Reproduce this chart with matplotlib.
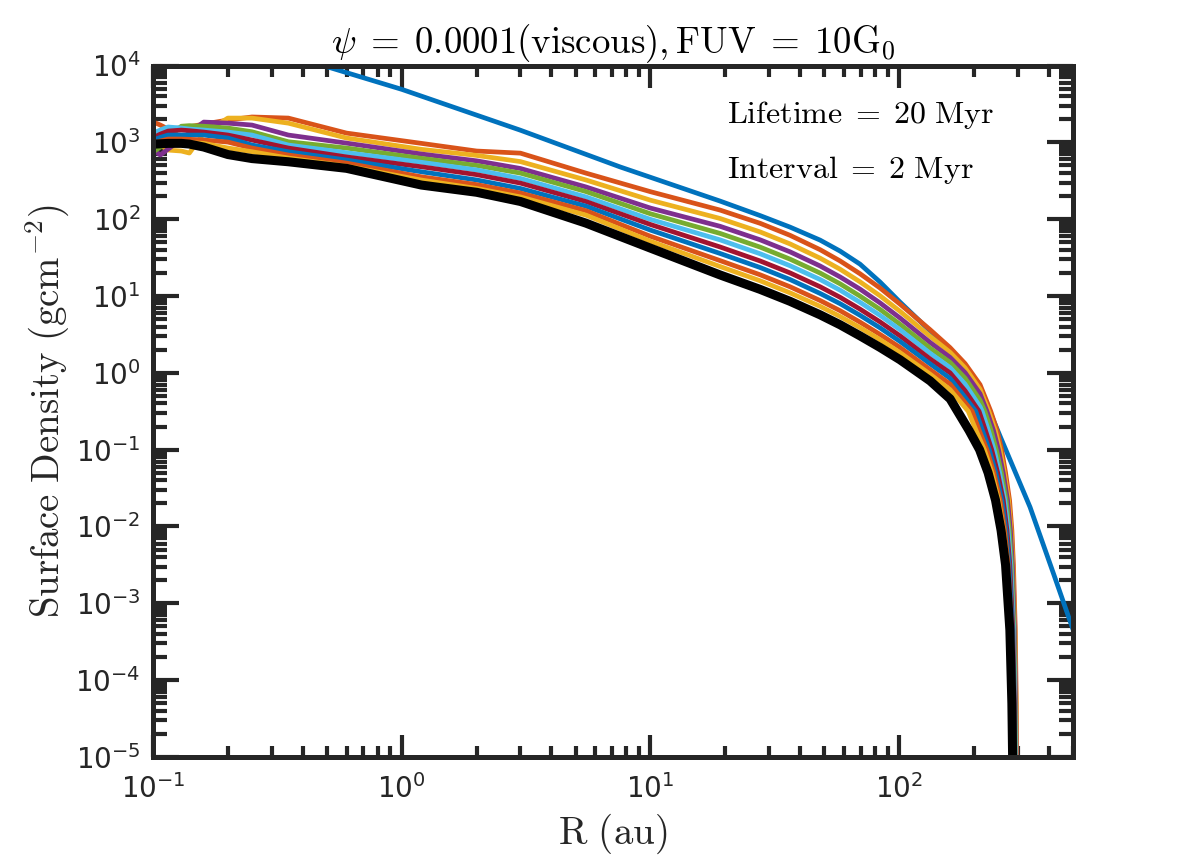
import numpy as np
import matplotlib
matplotlib.use("Agg")
import matplotlib.pyplot as plt
from matplotlib.ticker import LogLocator, NullFormatter

# ---------------- data ----------------
# inner radius grid (au), shared by the evolved profiles
R_inner = [0.1, 0.107, 0.115, 0.13, 0.14, 0.16, 0.2, 0.25, 0.35, 0.6, 1.2, 2, 3, 5.5, 10]
# outer radius columns (au), shared by the evolved profiles
R_cols = [19.05, 27.6, 36.4, 48.1, 57.9, 69.6, 83.8, 100.8, 133.1, 160.2]
# surface density levels along the steep outer cutoff (g cm^-2)
sigma_tail = [0.316, 0.178, 0.1, 0.0501, 0.0219, 0.00891, 0.00316, 4.47e-4, 5.01e-5, 1e-6]

# initial profile (t = 0)
R_t0 = [0.45, 1.0, 2.99, 7.55, 19.05, 27.6, 36.4, 48.1, 57.9, 69.6, 83.8, 100.8, 160.2,
        217.4, 254.5, 336.0, 419.6, 501]
sigma_t0 = [10715, 4898, 1445, 479, 172.1, 111.4, 78.9, 53.4, 38.4, 26.0, 15.2, 8.33, 1.98,
            0.5125, 0.150, 0.01784, 2.32e-3, 4.47e-4]

# t = 2 Myr
in_t2 = [1850, 1680, 1490, 1550, 1591, 1730, 1950, 2140, 2070, 1320, 970, 771, 724, 398, 228]
col_t2 = [131.4, 88.4, 61.7, 40.1, 28.6, 19.5, 12.7, 7.84, 3.65, 2.13]
extR_t2 = [184.1, 211.5]
extS_t2 = [1.32, 0.702]
tail_t2 = [233.5, 247.5, 258.1, 267.8, 277.9, 283.9, 288.1, 293.0, 295.7, 298.5]
# t = 4 Myr
in_t4 = [1000, 922, 794, 771, 726, 1318, 2070, 2070, 1778, 1138, 811, 676, 562, 324, 176.8]
col_t4 = [102.1, 68.3, 47.7, 31.1, 22.3, 15.3, 10.06, 6.32, 2.99, 1.85]
extR_t4 = [184.1, 211.5]
extS_t4 = [1.16, 0.612]
tail_t4 = [229.2, 243.4, 254.5, 264.9, 275.4, 281.8, 286.5, 291.9, 294.9, 297.6]
# t = 6 Myr
in_t6 = [794, 684, 818, 1096, 1330, 1837, 1778, 1679, 1245, 977, 705, 575, 457, 263, 139.5]
col_t6 = [80.8, 53.9, 37.6, 24.6, 17.7, 12.3, 8.13, 5.17, 2.49, 1.59]
extR_t6 = [184.1, 211.5]
extS_t6 = [1.006, 0.534]
tail_t6 = [225.4, 239.4, 250.8, 261.9, 272.8, 280.0, 285.2, 290.8, 294.1, 297.1]
# t = 8 Myr
in_t8 = [748, 869, 1138, 1622, 1650, 1622, 1535, 1374, 1019, 843, 619, 501, 398, 229, 117.6]
col_t8 = [65.3, 43.3, 30.2, 19.9, 14.4, 9.97, 6.69, 4.29, 2.10, 1.37]
extR_t8 = [184.1, 211.5]
extS_t8 = [0.853, 0.440]
tail_t8 = [221.1, 234.2, 245.7, 257.6, 269.3, 277.1, 283.1, 289.5, 292.7, 296.0]
# t = 10 Myr
in_t10 = [1318, 1446, 1585, 1535, 1490, 1445, 1361, 1245, 923, 733, 550, 437, 339, 195, 99.4]
col_t10 = [53.8, 35.5, 24.8, 16.4, 11.9, 8.28, 5.59, 3.64, 1.80, 1.17]
extR_t10 = [184.1, 211.5]
extS_t10 = [0.713, 0.362]
tail_t10 = [215.6, 228.4, 240.8, 253.3, 265.8, 274.3, 281.0, 288.1, 291.6, 295.2]
# t = 12 Myr
in_t12 = [1148, 1280, 1403, 1445, 1420, 1361, 1245, 1072, 843, 646, 481, 380, 295, 170, 85.3]
col_t12 = [43.5, 28.6, 20.0, 13.2, 9.62, 6.75, 4.60, 3.03, 1.52, 1.00]
extR_t12 = [184.1]
extS_t12 = [0.585]
tail_t12 = [209.5, 222.3, 235.5, 248.9, 262.2, 271.3, 278.7, 286.5, 290.3, 294.1]
# t = 14 Myr
in_t14 = [1072, 1160, 1245, 1245, 1245, 1245, 1138, 923, 755, 589, 414, 324, 251, 148, 72.1]
col_t14 = [35.8, 23.5, 16.4, 10.8, 7.94, 5.61, 3.85, 2.56, 1.31, 0.848]
extR_t14 = [184.1]
extS_t14 = [0.480]
tail_t14 = [203.2, 216.2, 230.3, 244.6, 258.6, 268.6, 276.6, 285.0, 288.9, 293.0]
# t = 16 Myr
in_t16 = [977, 1040, 1104, 1104, 1095, 1072, 1009, 843, 684, 537, 356, 282, 219, 129, 59.9]
col_t16 = [28.9, 18.9, 13.2, 8.74, 6.44, 4.57, 3.16, 2.14, 1.10, 0.715]
extR_t16 = []
extS_t16 = []
tail_t16 = [196.6, 209.9, 225.2, 240.3, 254.7, 265.6, 274.3, 283.4, 287.9, 291.9]
# t = 18 Myr
in_t18 = [923, 965, 1009, 1009, 995, 970, 844, 755, 625, 490, 323, 251, 195, 113, 51.6]
col_t18 = [24.2, 15.8, 11.0, 7.34, 5.41, 3.87, 2.70, 1.83, 0.962, 0.604]
extR_t18 = []
extS_t18 = []
tail_t18 = [189.6, 203.8, 220.1, 236.1, 251.2, 262.7, 272.1, 281.8, 286.5, 290.8]
# t = 20 Myr (final, black)
in_t20 = [944, 958, 970, 970, 950, 869, 694, 615, 559, 459, 278, 224, 170, 88.9, 42.0]
col_t20 = [18.8, 12.2, 8.53, 5.69, 4.22, 3.03, 2.14, 1.48, 0.787, 0.459]
extR_t20 = []
extS_t20 = []
tail_t20 = [171.7, 191.0, 210.5, 227.8, 244.1, 256.9, 267.8, 278.7, 283.9, 288.7]

# MATLAB default colour order
c_blue = "#0072BD"
c_orange = "#D95319"
c_yellow = "#EDB120"
c_purple = "#7E2F8E"
c_green = "#77AC30"
c_lblue = "#4DBEEE"
c_red = "#A2142F"

evolved = [
    (in_t2, col_t2, extR_t2, extS_t2, tail_t2, c_orange),
    (in_t4, col_t4, extR_t4, extS_t4, tail_t4, c_yellow),
    (in_t6, col_t6, extR_t6, extS_t6, tail_t6, c_purple),
    (in_t8, col_t8, extR_t8, extS_t8, tail_t8, c_green),
    (in_t10, col_t10, extR_t10, extS_t10, tail_t10, c_lblue),
    (in_t12, col_t12, extR_t12, extS_t12, tail_t12, c_red),
    (in_t14, col_t14, extR_t14, extS_t14, tail_t14, c_blue),
    (in_t16, col_t16, extR_t16, extS_t16, tail_t16, c_orange),
    (in_t18, col_t18, extR_t18, extS_t18, tail_t18, c_yellow),
]


def profile(inner, cols, extR, extS, tail):
    r = list(R_inner) + list(R_cols) + list(extR) + list(tail)
    s = list(inner) + list(cols) + list(extS) + list(sigma_tail)
    return r, s


# ---------------- figure ----------------
fig = plt.figure(figsize=(11.88, 8.60), dpi=100)
ax = fig.add_axes([0.1288, 0.1198, 0.7744, 0.8040])

ax.plot(R_t0, sigma_t0, color=c_blue, lw=3.4, solid_joinstyle="round")
for inner, cols, extR, extS, tail, col in evolved:
    r, s = profile(inner, cols, extR, extS, tail)
    ax.plot(r, s, color=col, lw=3.4, solid_joinstyle="round")
r, s = profile(in_t20, col_t20, extR_t20, extS_t20, tail_t20)
ax.plot(r, s, color="black", lw=6.5, solid_joinstyle="round")

ax.set_xscale("log")
ax.set_yscale("log")
ax.set_xlim(0.1, 500)
ax.set_ylim(1e-5, 1e4)

dark = "#262626"
ax.xaxis.set_major_locator(LogLocator(base=10, numticks=20))
ax.yaxis.set_major_locator(LogLocator(base=10, numticks=20))
ax.xaxis.set_minor_locator(LogLocator(base=10, subs=np.arange(2, 10), numticks=20))
ax.yaxis.set_minor_locator(LogLocator(base=10, subs=np.arange(2, 10), numticks=20))
ax.xaxis.set_minor_formatter(NullFormatter())
ax.yaxis.set_minor_formatter(NullFormatter())

for sp in ax.spines.values():
    sp.set_linewidth(3.6)
    sp.set_color(dark)

ax.tick_params(axis="both", which="both", direction="in", top=True, right=True,
               colors=dark, labelsize=20, width=3.0)
ax.tick_params(axis="x", which="major", length=16, pad=12)
ax.tick_params(axis="x", which="minor", length=8)
ax.tick_params(axis="y", which="major", length=19, pad=9)
ax.tick_params(axis="y", which="minor", length=10)

ax.set_title(r"$\psi\;=\;0.0001\mathrm{(viscous)},\mathrm{FUV}\;=\;10\mathrm{G}_0$",
             math_fontfamily="cm", fontsize=26.5, pad=9, color="black")
ax.set_xlabel(r"$\mathrm{R\ (au)}$", math_fontfamily="cm", fontsize=28, color=dark, labelpad=6)
ax.set_ylabel(r"$\mathrm{Surface\ Density\ (gcm^{-2})}$", math_fontfamily="cm", fontsize=28,
              color=dark, labelpad=3)

ax.text(0.624, 0.928, r"$\mathrm{Lifetime}\;=\;20\ \mathrm{Myr}$", transform=ax.transAxes,
        math_fontfamily="cm", fontsize=23, va="center", ha="left")
ax.text(0.624, 0.849, r"$\mathrm{Interval}\;=\;2\ \mathrm{Myr}$", transform=ax.transAxes,
        math_fontfamily="cm", fontsize=23, va="center", ha="left")

fig.savefig("out.png", dpi=100)
